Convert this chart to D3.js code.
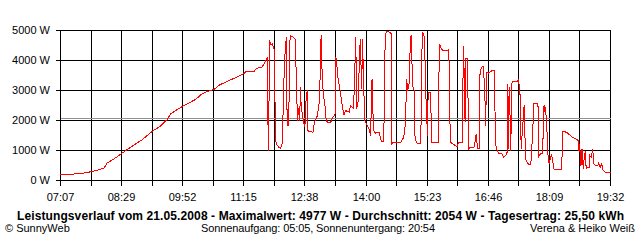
<!DOCTYPE html>
<html>
<head>
<meta charset="utf-8">
<script src="https://cdn.jsdelivr.net/npm/d3@7"></script>
<style>
  body { margin: 0; background: #fff; }
  text { font-family: "Liberation Sans", Arial, sans-serif; }
</style>
</head>
<body>
<div class="canvas"></div>
<script>
// time of day in minutes (07:07 = 427) and power in W
const minutes = [
  427, 443, 458, 470, 486, 490, 499, 511, 522, 538, 551, 562, 572, 576, 594, 610, 617, 626, 635, 641,
  655, 666, 675, 678, 689, 693, 700, 704, 707, 708, 709, 710, 712, 714, 716, 717, 718, 720, 723, 725,
  727, 728, 729, 731, 732, 733, 734, 736, 737, 738, 741, 745, 748, 749, 751, 752, 753, 755, 758, 760,
  761, 762, 764, 769, 771, 775, 777, 778, 780, 781, 783, 785, 787, 789, 793, 795, 799, 800, 802, 803,
  805, 807, 809, 811, 813, 818, 820, 824, 827, 828, 830, 832, 833, 835, 836, 838, 839, 842, 845, 847,
  849, 850, 851, 854, 856, 859, 860, 862, 865, 866, 868, 871, 875, 876, 878, 883, 888, 892, 894, 896,
  897, 899, 900, 901, 902, 904, 906, 907, 909, 911, 915, 917, 919, 920, 922, 923, 924, 925, 928, 929,
  930, 933, 939, 940, 943, 945, 951, 953, 954, 955, 958, 962, 964, 966, 971, 972, 973, 975, 976, 978,
  979, 980, 982, 987, 989, 990, 992, 994, 995, 997, 1000, 1002, 1003, 1004, 1007, 1009, 1012, 1015, 1016, 1018,
  1021, 1025, 1027, 1030, 1032, 1033, 1034, 1035, 1037, 1038, 1040, 1046, 1047, 1049, 1050, 1051, 1053, 1055, 1056, 1057,
  1059, 1061, 1064, 1066, 1067, 1068, 1073, 1074, 1075, 1077, 1079, 1080, 1082, 1083, 1084, 1086, 1087, 1088, 1089, 1092,
  1094, 1095, 1097, 1106, 1107, 1113, 1115, 1120, 1125, 1128, 1129, 1130, 1132, 1133, 1134, 1135, 1137, 1138, 1139, 1143,
  1144, 1146, 1148, 1149, 1152, 1155, 1156, 1158, 1160, 1162, 1165, 1169, 1172
]
const watts = [
  200, 210, 245, 300, 410, 577, 710, 923, 1110, 1367, 1633, 1810, 2043, 2222, 2500, 2700, 2857, 2967, 3033, 3167,
  3333, 3443, 3557, 3633, 3633, 3743, 3777, 3943, 4110, 1950, 1000, 4667, 4530, 4550, 4400, 4280, 1333, 1200, 1100, 1077,
  1200, 1610, 2943, 4167, 4500, 4777, 1833, 1833, 3277, 4833, 4800, 4700, 2000, 2400, 2000, 3110, 2500, 2100, 1777, 2900,
  2943, 1667, 1630, 1610, 1943, 2167, 2500, 2833, 4833, 3833, 2833, 2557, 2000, 1943, 1943, 2057, 2223, 4110, 3700, 3390,
  3110, 2777, 2443, 2190, 2333, 2277, 2500, 2400, 4777, 2390, 2610, 4057, 4723, 3057, 4700, 2943, 2000, 1850, 1723, 1500,
  3390, 2443, 1667, 1567, 1610, 1610, 1443, 1300, 1300, 4110, 4943, 4977, 4890, 1223, 1277, 1250, 1270, 1443, 1833, 3390,
  3000, 3167, 3833, 4777, 4833, 3167, 3000, 1500, 1277, 1223, 1223, 4943, 4890, 4723, 2777, 2223, 1500, 2943, 2943, 2167,
  1277, 1257, 1257, 4557, 4390, 4333, 4333, 4367, 2890, 1277, 1223, 1167, 1110, 1267, 1267, 3110, 4477, 1943, 4057, 4077,
  2723, 1057, 1110, 1110, 1333, 1557, 1057, 1057, 3500, 3777, 3800, 2667, 1833, 3610, 3580, 3620, 3667, 3667, 1223, 1033,
  890, 890, 777, 833, 943, 3223, 1057, 3110, 1000, 3223, 3300, 3300, 3350, 3110, 2557, 1057, 1777, 2500, 1610, 723,
  610, 540, 523, 1333, 1833, 2557, 2557, 2443, 810, 890, 890, 943, 2500, 2277, 2443, 1610, 943, 667, 557, 890,
  610, 390, 367, 367, 1630, 1610, 1557, 1443, 1390, 1333, 1000, 1223, 500, 1057, 1000, 390, 890, 967, 410, 443,
  833, 777, 1057, 557, 500, 500, 590, 443, 557, 333, 277, 257, 277
]
const avgWatts = 2054
const yTicks = [0, 1000, 2000, 3000, 4000, 5000]
const timeLabels = ['07:07', '08:29', '09:52', '11:15', '12:38', '14:00', '15:23', '16:46', '18:09', '19:32']
const title = 'Leistungsverlauf vom 21.05.2008 - Maximalwert: 4977 W - Durchschnitt: 2054 W - Tagesertrag: 25,50 kWh'

const dims = { width: 640, height: 240 }
const plot = { left: 60, right: 610, top: 30, bottom: 180 }

const svg = d3.select('.canvas')
    .append('svg')
    .attr('width', dims.width)
    .attr('height', dims.height)
    .style('display', 'block')

const x = d3.scaleLinear()
    .domain([minutes[0], minutes[minutes.length - 1]])
    .range([plot.left, plot.right])

const y = d3.scaleLinear()
    .domain([0, 5000])
    .range([plot.bottom, plot.top])

const graph = svg.append('g').attr('transform', 'translate(0.5, 0.5)')

// vertical grid, one line every half label step
const steps = (timeLabels.length - 1) * 2
const gridTimes = d3.range(steps + 1).map(i => x.domain()[0] + i * (x.domain()[1] - x.domain()[0]) / steps)

graph.selectAll('line.vgrid')
    .data(gridTimes)
    .enter().append('line')
    .attr('class', 'vgrid')
    .attr('x1', d => Math.round(x(d))).attr('x2', d => Math.round(x(d)))
    .attr('y1', plot.top).attr('y2', plot.bottom + 5)
    .attr('stroke', '#000')
    .attr('shape-rendering', 'crispEdges')

graph.selectAll('line.hgrid')
    .data(yTicks)
    .enter().append('line')
    .attr('class', 'hgrid')
    .attr('x1', plot.left - 5).attr('x2', plot.right)
    .attr('y1', d => y(d)).attr('y2', d => y(d))
    .attr('stroke', '#000')
    .attr('shape-rendering', 'crispEdges')

// average line
graph.append('line')
    .attr('x1', plot.left).attr('x2', plot.right)
    .attr('y1', Math.round(y(avgWatts))).attr('y2', Math.round(y(avgWatts)))
    .attr('stroke', '#909090')
    .attr('shape-rendering', 'crispEdges')

// y labels
svg.selectAll('text.ylab')
    .data(yTicks)
    .enter().append('text')
    .attr('class', 'ylab')
    .attr('x', 50)
    .attr('y', d => y(d) + 4)
    .attr('text-anchor', 'end')
    .attr('font-size', 11)
    .text(d => `${d} W`)

// x labels
svg.selectAll('text.xlab')
    .data(timeLabels)
    .enter().append('text')
    .attr('class', 'xlab')
    .attr('x', (d, i) => Math.round(x(gridTimes[i * 2])) + 0.5)
    .attr('y', 201)
    .attr('text-anchor', 'middle')
    .attr('font-size', 11)
    .text(d => d)

// power line
const line = d3.line()
    .x(d => x(d[0]))
    .y(d => y(d[1]))

graph.append('path')
    .datum(d3.zip(minutes, watts))
    .attr('d', line)
    .attr('fill', 'none')
    .attr('stroke', '#ff0000')
    .attr('stroke-width', 1)
    .attr('shape-rendering', 'crispEdges')

// texts below
svg.append('text')
    .attr('x', 17).attr('y', 220)
    .attr('font-size', 12)
    .attr('font-weight', 'bold')
    .attr('textLength', 607)
    .attr('lengthAdjust', 'spacing')
    .text(title)

svg.append('text')
    .attr('x', 5).attr('y', 232)
    .attr('font-size', 11)
    .text('© SunnyWeb')

svg.append('text')
    .attr('x', 201).attr('y', 232)
    .attr('font-size', 11)
    .attr('textLength', 234)
    .attr('lengthAdjust', 'spacing')
    .text('Sonnenaufgang: 05:05, Sonnenuntergang: 20:54')

svg.append('text')
    .attr('x', 635).attr('y', 232)
    .attr('text-anchor', 'end')
    .attr('font-size', 11)
    .text('Verena & Heiko Weiß')
</script>
</body>
</html>
